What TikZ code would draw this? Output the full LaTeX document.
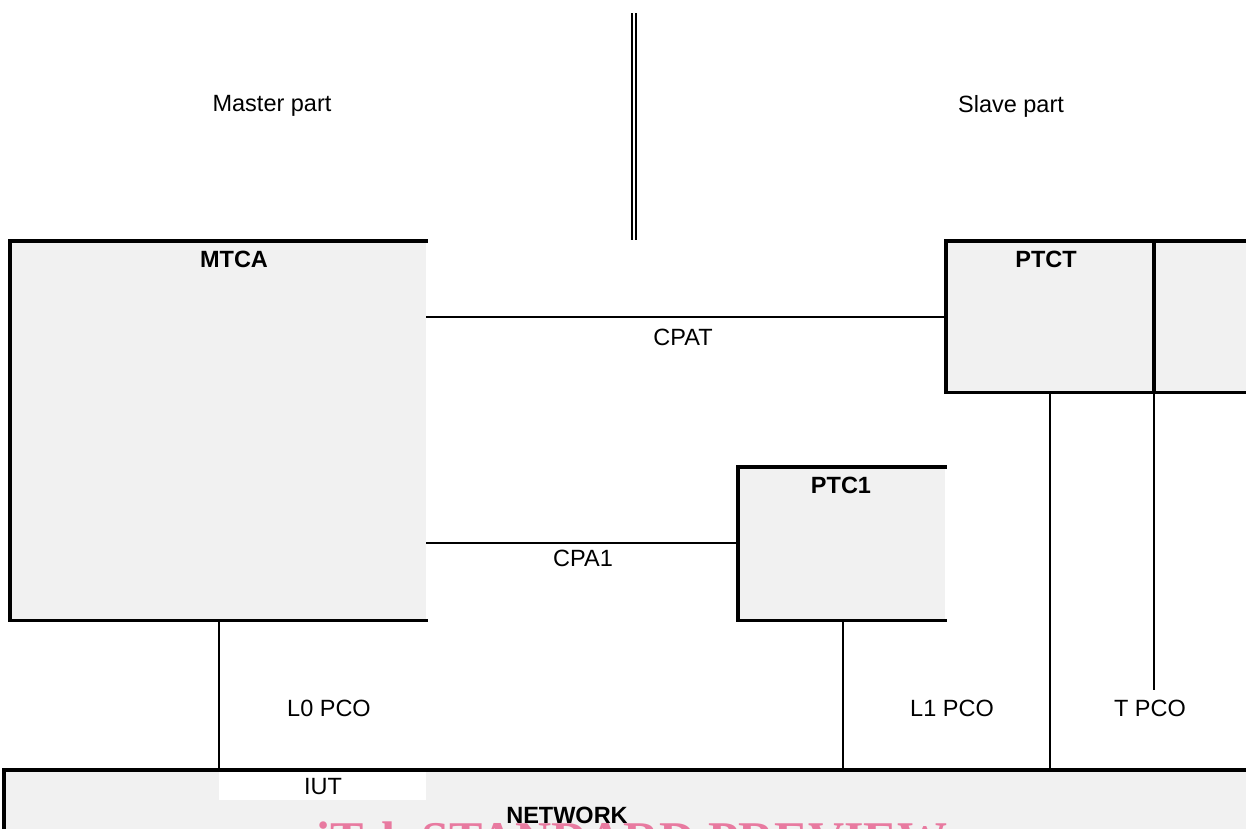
\documentclass[tikz,border=0pt]{standalone}
\usepackage{fontspec}
\setmainfont{Liberation Sans}
\newfontfamily\wmfont{Liberation Serif}
\definecolor{boxgray}{RGB}{241,241,241}
\definecolor{wmpink}{RGB}{232,122,160}
\tikzset{
  boxfill/.style={draw=none, fill=boxgray, inner sep=0pt, anchor=north west},
  border/.style={line width=3.5pt, line cap=rect},
  link/.style={line width=1.4pt},
  lbl/.style={font=\fontsize{23.5}{27}\selectfont, inner sep=0pt},
  blbl/.style={font=\fontsize{23.5}{27}\selectfont\bfseries, inner sep=0pt},
}
\begin{document}
\begin{tikzpicture}[x=1pt, y=-1pt]
\useasboundingbox (0,0) rectangle (1246,828);
\clip (0,0) rectangle (1246,828);
\fill[white] (0,0) rectangle (1246,828);

% boxes
\node[boxfill, minimum width=416pt, minimum height=379pt] (mtca) at (10,241) {};
\node[boxfill, minimum width=310pt, minimum height=151pt] (ptct) at (946,241) {};
\node[boxfill, minimum width=207pt, minimum height=153pt] (ptc1) at (738,467) {};
\node[boxfill, minimum width=1250pt, minimum height=70pt] (net) at (4,770) {};
\node[draw=none, fill=white, inner sep=0pt, anchor=north west, minimum width=207pt, minimum height=28pt] (iutbox) at (219,772) {};

% borders
\draw[border] (mtca.north east) -- (mtca.north west) -- (mtca.south west) -- (mtca.south east);
\draw[border] (ptct.north east) -- (ptct.north west) -- (ptct.south west) -- (ptct.south east);
\coordinate (div) at (1154,241);
\draw[border] (div) -- (div |- ptct.south);
\draw[border] (ptc1.north east) -- (ptc1.north west) -- (ptc1.south west) -- (ptc1.south east);
\draw[border] (net.south west) -- (net.north west) -- (net.north east);

% separator double line
\coordinate (sepA) at (632,13);
\coordinate (sepB) at (632,240);
\coordinate (sepC) at (636,13);
\coordinate (sepD) at (636,240);
\draw[line width=1.8pt] (sepA) -- (sepB);
\draw[line width=1.8pt] (sepC) -- (sepD);

% labels
\node[lbl] (master) at (272,106) {Master part};
\node[lbl] (slave) at (1011,106) {Slave part};
\node[blbl] (mtcal) at (234,259) {MTCA};
\node[blbl] (ptctl) at (1046,259) {PTCT};
\node[blbl] (ptc1l) at (841,485) {PTC1};

% connectors
\coordinate (cpatA) at (426,317);
\draw[link] (cpatA) -- (cpatA -| ptct.west);
\node[lbl] (cpat) at (683,337) {CPAT};
\coordinate (cpa1A) at (426,543);
\draw[link] (cpa1A) -- (cpa1A -| ptc1.west);
\node[lbl] (cpa1) at (583,558) {CPA1};

\coordinate (l0) at (219,620);
\draw[link] (l0) -- (l0 |- net.north);
\coordinate (l1) at (843,620);
\draw[link] (l1) -- (l1 |- net.north);
\coordinate (tn) at (1050,392);
\draw[link] (tn) -- (tn |- net.north);
\coordinate (tp) at (1154,392);
\coordinate (tpEnd) at (1154,690);
\draw[link] (tp) -- (tpEnd);

\node[lbl] (l0pco) at (329,708) {L0 PCO};
\node[lbl] (l1pco) at (952,708) {L1 PCO};
\node[lbl] (tpco) at (1150,708) {T PCO};

% bottom
\node[lbl] (iut) at (323,787) {IUT};
\node[font=\wmfont\bfseries\fontsize{50}{50}\selectfont, text=wmpink, inner sep=0pt, anchor=north] (wm) at (632,822) {iTeh STANDARD PREVIEW};
\node[blbl] (network) at (567,815) {NETWORK};
\end{tikzpicture}
\end{document}
